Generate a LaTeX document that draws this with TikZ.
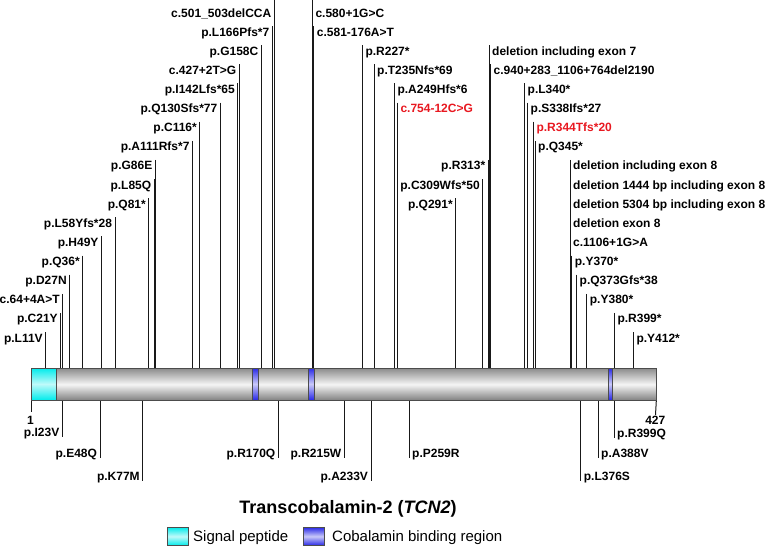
\documentclass[tikz,border=0pt]{standalone}
\usepackage{fontspec}
\setmainfont{Liberation Sans}
\definecolor{mutred}{RGB}{232,24,32}
\definecolor{sigcyan}{RGB}{0,235,235}
\definecolor{cobblue}{RGB}{40,40,230}
\begin{document}
\begin{tikzpicture}[x=1pt,y=-1pt,
  lbl/.style={font=\bfseries\fontsize{12}{14}\selectfont, inner sep=0pt},
  legtxt/.style={font=\fontsize{15}{18}\selectfont, inner sep=0pt, anchor=base west},
  mline/.style={draw=black!90, line width=1pt},
  barbox/.style={draw=black!70, line width=0.8pt, top color=black!45, bottom color=black!50, middle color=black!4, inner sep=0pt},
  sigbox/.style={draw=black!70, line width=0.8pt, top color=sigcyan, bottom color=sigcyan, middle color=white!75!sigcyan},
  cobbox/.style={draw=black!70, line width=0.8pt, top color=cobblue, bottom color=cobblue, middle color=white!75!cobblue}]
\useasboundingbox (0,0) rectangle (768,547);

% protein bar
\node[barbox, anchor=north west, minimum width=624.5pt, minimum height=32pt] (bar) at (31,368) {};
\shade[sigbox] (31,368) rectangle (56,400);
\shade[cobbox] (252,368) rectangle (258,400);
\shade[cobbox] (308.5,368) rectangle (314.5,400);
\shade[cobbox] (608.7,368) rectangle (612,400);

% upper variants, label left of line
\foreach \x/\kk/\tx/\cl [count=\i] in {
  45.7/17/p.L11V/black, 60.7/16/p.C21Y/black, 62.7/15/c.64+4A>T/black,
  69.7/14/p.D27N/black, 82.7/13/p.Q36*/black, 101.5/12/p.H49Y/black,
  115/11/p.L58Yfs*28/black, 148.8/10/p.Q81*/black, 154.2/9/p.L85Q/black,
  155.3/8/p.G86E/black, 192.5/7/p.A111Rfs*7/black, 199.8/6/p.C116*/black,
  220.3/5/p.Q130Sfs*77/black, 237.8/4/p.I142Lfs*65/black, 239.3/3/c.427+2T>G/black,
  261.3/2/p.G158C/black, 272.3/1/p.L166Pfs*7/black, 274.3/0/c.501\_503delCCA/black,
  455.7/10/p.Q291*/black, 482.7/9/p.C309Wfs*50/black, 488.2/8/p.R313*/black}
{
  \pgfmathsetmacro\yb{17+19.12*\kk}
  \pgfmathsetmacro\yt{ifthenelse(\kk==0,0,\yb-10)}
  \node[lbl, text=\cl, anchor=base east] (ul\i) at (\x-2.8,\yb) {\tx};
  \coordinate (ult\i) at (\x,\yt);
  \draw[mline] (ult\i) -- (ult\i |- bar.north);
}

% upper variants, label right of line
\foreach \x/\kk/\tx/\cl [count=\i] in {
  312.3/0/c.580+1G>C/black, 313.7/1/c.581-176A>T/black, 362.3/2/p.R227*/black,
  374/3/p.T235Nfs*69/black, 394.3/4/p.A249Hfs*6/black, 397.3/5/c.754-12C>G/mutred,
  489/2/deletion including exon 7/black, 490.5/3/c.940+283\_1106+764del2190/black,
  524.5/4/p.L340*/black, 527.5/5/p.S338Ifs*27/black, 533.3/6/p.R344Tfs*20/mutred,
  535/7/p.Q345*/black, 570/8/deletion including exon 8/black,
  570/9/deletion 1444 bp including exon 8/black, 570/10/deletion 5304 bp including exon 8/black,
  570/11/deletion exon 8/black, 570/12/c.1106+1G>A/black, 571.7/13/p.Y370*/black,
  576.5/14/p.Q373Gfs*38/black, 586.7/15/p.Y380*/black, 614.3/16/p.R399*/black,
  633.3/17/p.Y412*/black}
{
  \pgfmathsetmacro\yb{17+19.12*\kk}
  \pgfmathsetmacro\yt{ifthenelse(\kk==0,0,\yb-10)}
  \node[lbl, text=\cl, anchor=base west] (ur\i) at (\x+3,\yb) {\tx};
  \coordinate (urt\i) at (\x,\yt);
  \draw[mline] (urt\i) -- (urt\i |- bar.north);
}

% lower variants, label left of line
\foreach \x/\ye/\tx [count=\i] in {
  62.3/437/p.I23V, 100/458/p.E48Q, 142.7/481/p.K77M, 278.3/458/p.R170Q,
  344.3/458/p.R215W, 371/481/p.A233V}
{
  \coordinate (llt\i) at (\x,\ye);
  \node[lbl, anchor=base east] (ll\i) at (\x-2.8,\ye-1) {\tx};
  \draw[mline] (llt\i |- bar.south) -- (llt\i);
}

% lower variants, label right of line
\foreach \x/\ye/\tx [count=\i] in {
  409/458/p.P259R, 580.7/481/p.L376S, 598/458/p.A388V, 614/438/p.R399Q}
{
  \coordinate (lrt\i) at (\x,\ye);
  \node[lbl, anchor=base west] (lr\i) at (\x+3,\ye-1) {\tx};
  \draw[mline] (lrt\i |- bar.south) -- (lrt\i);
}

% residue numbers
\coordinate (startend) at (31,412);
\coordinate (stopend) at (655.5,415);
\draw[mline] (bar.south west) -- (startend);
\draw[mline] (bar.south east) -- (stopend);
\node[lbl, anchor=base] (nstart) at (30.5,424) {1};
\node[lbl, anchor=base] (nstop) at (655.3,424.5) {427};

% title
\node[font=\bfseries\fontsize{18}{22}\selectfont, inner sep=0pt, anchor=base] (title) at (348,513) {Transcobalamin-2 (\textit{TCN2})};

% legend
\node[sigbox, anchor=north west, minimum width=21pt, minimum height=18.3pt, inner sep=0pt] (sigleg) at (167.3,526.8) {};
\node[legtxt] (sigtxt) at (193,541.5) {Signal peptide};
\node[cobbox, anchor=north west, minimum width=21pt, minimum height=18.3pt, inner sep=0pt] (cobleg) at (303,526.8) {};
\node[legtxt] (cobtxt) at (332,541.5) {Cobalamin binding region};
\end{tikzpicture}
\end{document}
